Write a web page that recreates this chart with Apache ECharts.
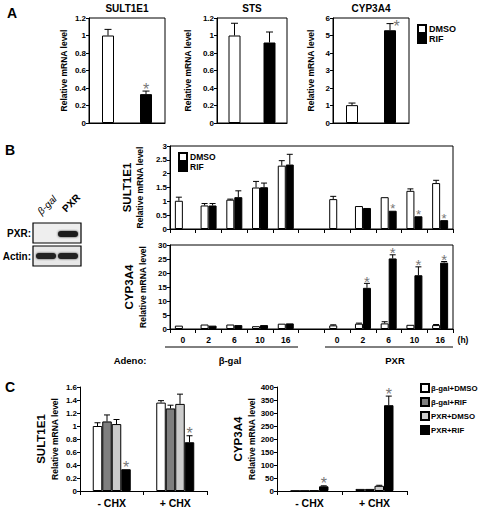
<!DOCTYPE html>
<html><head><meta charset="utf-8">
<script src="https://cdn.jsdelivr.net/npm/echarts@6/dist/echarts.min.js"></script>
<style>html,body{margin:0;padding:0;background:#fff;}#c{width:480px;height:508px;}</style>
</head><body><div id="c"></div>
<script>
// ---------- Panel A ----------
const aCats = ['DMSO', 'RIF'];
const aSultVals = [1.0, 0.33];
const aSultErr = [0.07, 0.035];
const aSultSig = [0, 1];
const aStsVals = [1.0, 0.92];
const aStsErr = [0.14, 0.12];
const aStsSig = [0, 0];
const aCypVals = [1.02, 5.3];
const aCypErr = [0.12, 0.38];
const aCypSig = [0, 1];

// ---------- Panel B ----------
const bCats = ['0', '2', '6', '10', '16', '', '0', '2', '6', '10', '16'];
const bSultDmso = [1.02, 0.85, 1.06, 1.50, 2.29, null, 1.08, 0.83, 1.15, 1.38, 1.66];
const bSultDmsoErr = [0.13, 0.07, 0.02, 0.22, 0.18, 0, 0.10, 0, 0, 0.07, 0.10];
const bSultRif = [null, 0.85, 1.15, 1.51, 2.33, null, null, 0.76, 0.66, 0.46, 0.32];
const bSultRifErr = [0, 0.07, 0.23, 0.15, 0.37, 0, 0, 0, 0, 0, 0];
const bSultRifSig = [0, 0, 0, 0, 0, 0, 0, 0, 1, 1, 1];
const bCypDmso = [1.2, 1.6, 1.6, 1.0, 1.9, null, 1.3, 1.9, 2.0, 1.5, 1.4];
const bCypDmsoErr = [0, 0, 0, 0, 0, 0, 0.2, 0.2, 0.6, 0, 0.2];
const bCypRif = [null, 1.2, 1.4, 1.4, 2.0, null, null, 14.7, 25.2, 19.2, 23.7];
const bCypRifErr = [0, 0, 0, 0, 0, 0, 0, 1.6, 1.3, 3.0, 0.4];
const bCypRifSig = [0, 0, 0, 0, 0, 0, 0, 1, 1, 1, 1];

// ---------- Panel C ----------
const cCats = ['- CHX', '+ CHX'];
const cSeriesNames = ['β-gal+DMSO', 'β-gal+RIF', 'PXR+DMSO', 'PXR+RIF'];
const cSultVals = [[1.0, 1.36], [1.07, 1.27], [1.03, 1.34], [0.335, 0.75]];
const cSultErr = [[0.05, 0.03], [0.10, 0.05], [0.07, 0.15], [0, 0.10]];
const cSultSig = [[0, 0], [0, 0], [0, 0], [1, 1]];
const cCypVals = [[1, 8], [1, 8], [2, 20], [18, 330]];
const cCypErr = [[0, 0], [0, 0], [0, 2], [2, 35]];
const cCypSig = [[0, 0], [0, 0], [0, 0], [1, 1]];
const cColors = ['#ffffff', '#7f7f7f', '#cccccc', '#000000'];

const FONT = 'Liberation Sans';
const chart = echarts.init(document.getElementById('c'), null, {renderer: 'svg'});

function errSeries(axisIdx, vals, errs, sigs, offset, capW, starSize) {
  const data = vals.map((v, i) => [i, v == null ? NaN : v, errs[i] || 0, sigs ? sigs[i] : 0]);
  return {
    type: 'custom', xAxisIndex: axisIdx, yAxisIndex: axisIdx, z: 10, silent: true, clip: false,
    renderItem(params, api) {
      const v = api.value(1);
      if (v == null || isNaN(v)) return;
      const e = api.value(2), s = api.value(3);
      const p0 = api.coord([api.value(0), v]);
      const p1 = api.coord([api.value(0), v + e]);
      const x = p0[0] + offset;
      const ch = [];
      if (e > 0) {
        ch.push({type: 'line', shape: {x1: x, y1: p0[1], x2: x, y2: p1[1]}, style: {stroke: '#000', lineWidth: 1}});
        ch.push({type: 'line', shape: {x1: x - capW / 2, y1: p1[1], x2: x + capW / 2, y2: p1[1]}, style: {stroke: '#000', lineWidth: 1}});
      }
      if (s) {
        let sx = x, sy = p1[1] - 2;
        const top = params.coordSys.y;
        if (sy - 6 < top) { sx = x + capW / 2 + 3; sy = p1[1] + 3; }
        ch.push({type: 'text', x: sx, y: sy, style: {text: '*', fill: '#777', font: starSize + 'px ' + FONT, textAlign: 'center', textVerticalAlign: 'middle'}});
      }
      return {type: 'group', children: ch};
    },
    data: data
  };
}

const gridBox = {show: true, borderColor: '#000', borderWidth: 1, backgroundColor: 'transparent', containLabel: false};
const grids = [
  Object.assign({left: 89, top: 18, width: 76, height: 105}, gridBox),
  Object.assign({left: 217, top: 18, width: 70, height: 105}, gridBox),
  Object.assign({left: 333, top: 18, width: 76, height: 105}, gridBox),
  Object.assign({left: 170, top: 146, width: 283, height: 83}, gridBox),
  Object.assign({left: 170, top: 245, width: 283, height: 84}, gridBox),
  {left: 80, top: 387, width: 127, height: 105},
  {left: 277, top: 387, width: 130, height: 105}
];

const axLine = {show: true, lineStyle: {color: '#000', width: 1}};
const labStyle = {color: '#000', fontFamily: FONT, fontWeight: 'bold', fontSize: 8};

function xA(gi, cats, opts) {
  return Object.assign({
    type: 'category', gridIndex: gi, data: cats, axisLine: axLine,
    axisTick: {show: true, interval: 0, length: 4, lineStyle: {color: '#000'}},
    axisLabel: {show: false}, splitLine: {show: false}
  }, opts || {});
}
function yA(gi, max, interval, name, nameGap) {
  return {
    type: 'value', gridIndex: gi, min: 0, max: max, interval: interval,
    axisLine: axLine, axisTick: {show: true, length: 3, lineStyle: {color: '#000'}},
    axisLabel: Object.assign({margin: 3}, labStyle), splitLine: {show: false},
    name: name, nameLocation: 'middle', nameGap: nameGap, nameRotate: 90,
    nameTextStyle: {color: '#000', fontFamily: FONT, fontWeight: 'bold', fontSize: 8.5,
      rich: {g: {fontSize: 11.5, fontWeight: 'bold', fontFamily: FONT, color: '#000', lineHeight: 16},
             r: {fontSize: 8.5, fontWeight: 'bold', fontFamily: FONT, color: '#000', lineHeight: 11}}}
  };
}

const xAxes = [
  xA(0, aCats, {axisTick: {show: false}}),
  xA(1, aCats, {axisTick: {show: false}}),
  xA(2, aCats, {axisTick: {show: false}}),
  xA(3, bCats),
  xA(4, bCats, {axisLabel: Object.assign({show: true, interval: 0, margin: 6}, labStyle, {fontSize: 8.5})}),
  xA(5, cCats, {axisLabel: Object.assign({show: true, interval: 0, margin: 6}, labStyle, {fontSize: 10.5})}),
  xA(6, cCats, {axisLabel: Object.assign({show: true, interval: 0, margin: 6}, labStyle, {fontSize: 10.5})})
];
const yAxes = [
  yA(0, 1.2, 0.2, 'Relative mRNA level', 21),
  yA(1, 1.2, 0.2, 'Relative mRNA level', 25),
  yA(2, 6, 1, 'Relative mRNA level', 18),
  yA(3, 3, 0.5, '{g|SULT1E1}\n{r|Relative mRNA level}', 21),
  yA(4, 30, 5, '{g|CYP3A4}\n{r|Relative mRNA level}', 21),
  yA(5, 1.6, 0.2, '{g|SULT1E1}\n{r|Relative mRNA level}', 20),
  yA(6, 400, 50, '{g|CYP3A4}\n{r|Relative mRNA level}', 20)
];

const series = [];
// Panel A: DMSO / RIF stacked so they share the centre slot
[[aSultVals, aSultErr, aSultSig], [aStsVals, aStsErr, aStsSig], [aCypVals, aCypErr, aCypSig]].forEach((d, gi) => {
  series.push({type: 'bar', name: 'DMSO', xAxisIndex: gi, yAxisIndex: gi, stack: 'a' + gi, barWidth: 12,
    itemStyle: {color: '#fff', borderColor: '#000', borderWidth: 1}, data: [d[0][0], null]});
  series.push({type: 'bar', name: 'RIF', xAxisIndex: gi, yAxisIndex: gi, stack: 'a' + gi, barWidth: 12,
    itemStyle: {color: '#000', borderColor: '#000', borderWidth: 1}, data: [null, d[0][1]]});
  series.push(errSeries(gi, d[0], d[1], d[2], 0, 7, 16));
});
// Panel B
const bw = 8;
[[bSultDmso, bSultDmsoErr, bSultRif, bSultRifErr, bSultRifSig, 3], [bCypDmso, bCypDmsoErr, bCypRif, bCypRifErr, bCypRifSig, 4]].forEach(d => {
  const gi = d[5];
  series.push({type: 'bar', name: 'DMSO', xAxisIndex: gi, yAxisIndex: gi, barWidth: bw, barGap: '0%',
    itemStyle: {color: '#fff', borderColor: '#000', borderWidth: 1}, data: d[0]});
  series.push({type: 'bar', name: 'RIF', xAxisIndex: gi, yAxisIndex: gi, barWidth: bw, barGap: '0%',
    itemStyle: {color: '#000', borderColor: '#000', borderWidth: 1}, data: d[2]});
  series.push(errSeries(gi, d[0], d[1], null, -bw / 2, 6, 14));
  series.push(errSeries(gi, d[2], d[3], d[4], bw / 2, 6, gi === 3 ? 13 : 15));
});
// Panel C
const cw = 9.5;
[[cSultVals, cSultErr, cSultSig, 5], [cCypVals, cCypErr, cCypSig, 6]].forEach(d => {
  const gi = d[3];
  cSeriesNames.forEach((nm, k) => {
    series.push({type: 'bar', name: nm, xAxisIndex: gi, yAxisIndex: gi, barWidth: cw, barGap: '0%',
      itemStyle: {color: cColors[k], borderColor: '#000', borderWidth: 1}, data: d[0][k]});
  });
  cSeriesNames.forEach((nm, k) => {
    series.push(errSeries(gi, d[0][k], d[1][k], d[2][k], (k - 1.5) * cw, 6, 16));
  });
});

const legText = {color: '#000', fontFamily: FONT, fontWeight: 'bold'};
const legends = [
  {data: ['DMSO', 'RIF'], left: 417, top: 24, orient: 'vertical', icon: 'rect', itemWidth: 8, itemHeight: 8, itemGap: 0,
   selectedMode: false, padding: 0, textStyle: Object.assign({fontSize: 9, padding: [0, 0, 0, -2]}, legText)},
  {data: ['DMSO', 'RIF'], left: 178, top: 152, orient: 'vertical', icon: 'rect', itemWidth: 8, itemHeight: 8, itemGap: 0,
   selectedMode: false, padding: 0, textStyle: Object.assign({fontSize: 8.5, padding: [0, 0, 0, -2]}, legText)},
  {data: cSeriesNames, left: 420, top: 383, orient: 'vertical', icon: 'rect', itemWidth: 8, itemHeight: 8, itemGap: 4,
   selectedMode: false, padding: 0, textStyle: Object.assign({fontSize: 7.8, padding: [0, 0, 0, -3]}, legText)}
];

function txt(t, x, y, size, opts) {
  return Object.assign({type: 'text', x: x, y: y, silent: true,
    style: {text: t, fill: '#000', font: 'bold ' + size + 'px ' + FONT, textAlign: 'center', textVerticalAlign: 'middle'}}, opts || {});
}
const graphic = [
  txt('A', 12, 13, 14), txt('B', 10, 150, 14), txt('C', 10, 387, 14),
  txt('SULT1E1', 127, 8, 10), txt('STS', 252, 8, 10), txt('CYP3A4', 371, 8, 10),
  // western blot
  {type: 'rect', silent: true, shape: {x: 33, y: 223, width: 48, height: 20}, style: {fill: '#eeeeee', stroke: '#000', lineWidth: 1.2}},
  {type: 'rect', silent: true, shape: {x: 33, y: 246, width: 48, height: 20}, style: {fill: '#e8e8e8', stroke: '#000', lineWidth: 1.2}},
  {type: 'rect', silent: true, shape: {x: 58, y: 231, width: 20, height: 6, r: 3}, style: {fill: '#1a1a1a', shadowBlur: 2, shadowColor: '#333'}},
  {type: 'rect', silent: true, shape: {x: 36, y: 253, width: 20, height: 6, r: 3}, style: {fill: '#222', shadowBlur: 2, shadowColor: '#444'}},
  {type: 'rect', silent: true, shape: {x: 58, y: 253, width: 20, height: 6, r: 3}, style: {fill: '#222', shadowBlur: 2, shadowColor: '#444'}},
  txt('PXR:', 31, 233, 10, {style: {text: 'PXR:', fill: '#000', font: 'bold 10px ' + FONT, textAlign: 'right', textVerticalAlign: 'middle'}}),
  txt('Actin:', 31, 256, 10, {style: {text: 'Actin:', fill: '#000', font: 'bold 10px ' + FONT, textAlign: 'right', textVerticalAlign: 'middle'}}),
  {type: 'text', x: 47, y: 205, rotation: Math.PI / 4, silent: true,
   style: {text: 'β-gal', fill: '#000', font: 'italic 10px ' + FONT, textAlign: 'center', textVerticalAlign: 'middle'}},
  {type: 'text', x: 71, y: 203, rotation: Math.PI / 4, silent: true,
   style: {text: 'PXR', fill: '#000', font: 'bold 10px ' + FONT, textAlign: 'center', textVerticalAlign: 'middle'}},
  // Panel B adenovirus annotation
  txt('(h)', 463, 340, 8.5),
  {type: 'line', silent: true, shape: {x1: 165, y1: 347, x2: 298, y2: 347}, style: {stroke: '#000', lineWidth: 1}},
  {type: 'line', silent: true, shape: {x1: 325, y1: 347, x2: 453, y2: 347}, style: {stroke: '#000', lineWidth: 1}},
  txt('Adeno:', 130, 360, 9.5), txt('β-gal', 230, 360, 9.5), txt('PXR', 395, 360, 9.5)
];

chart.setOption({
  animation: false,
  backgroundColor: '#fff',
  textStyle: {fontFamily: FONT},
  grid: grids, xAxis: xAxes, yAxis: yAxes, series: series, legend: legends, graphic: graphic
});
</script></body></html>
